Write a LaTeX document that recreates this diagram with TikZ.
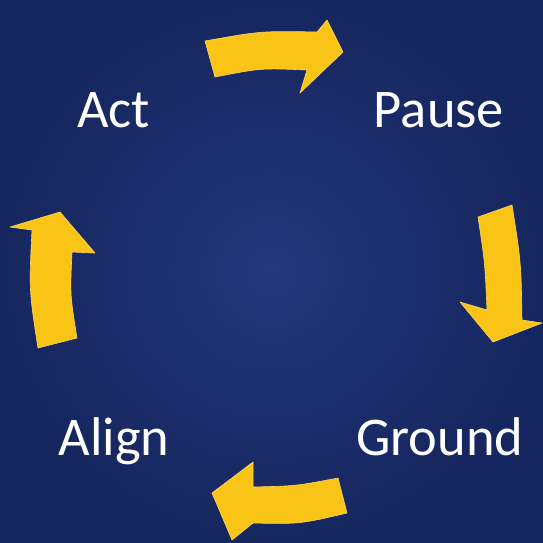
\documentclass[tikz,border=0pt]{standalone}
\usepackage{fontspec}
\newfontfamily\wordfont{Carlito}
\definecolor{clothblue}{RGB}{34,56,124}
\definecolor{clothdark}{RGB}{22,38,94}
\definecolor{arrowgold}{RGB}{250,196,22}
\tikzset{
  word/.style={text=white,font=\wordfont\fontsize{54.5}{60}\selectfont,inner sep=0pt,anchor=base},
  cyclearrow/.style={fill=arrowgold,draw=arrowgold!70!white,line width=0.6pt,line join=round}
}
\begin{document}
\begin{tikzpicture}[x=1pt,y=-1pt]
% cloth background
\useasboundingbox (0,0) rectangle (543,542);
\shade[inner color=clothblue,outer color=clothdark] (0,0) rectangle (543,542);

% the four steps
\node[word] (act) at (113.5,127) {Act};
\node[word] (pause) at (439,127) {Pause};
\node[word] (ground) at (440,455) {Ground};
\node[word] (align) at (114,455) {Align};

% top arrow, act to pause
\fill[cyclearrow] (205,41) .. controls (261,31) .. (317,32) -- (327,20) -- (343,52)
  -- (300,93) -- (307,70) .. controls (261,68) .. (215,77) -- cycle;
% right arrow, pause to ground
\fill[cyclearrow] (512,205) .. controls (521,262) .. (522,320) -- (542,323) -- (493,342)
  -- (460,302) -- (487,310) .. controls (485,263) .. (478,217) -- cycle;
% bottom arrow, ground to align
\fill[cyclearrow] (347,513) .. controls (300,524) .. (253,523) -- (232,540) -- (212,493)
  -- (253,462) -- (253,487) .. controls (296,486) .. (338,478) -- cycle;
% left arrow, align to act
\fill[cyclearrow] (38,348) .. controls (29,290) .. (32,230) -- (10,227) -- (60,212)
  -- (95,253) -- (72,252) .. controls (70,295) .. (77,338) -- cycle;
\end{tikzpicture}
\end{document}
